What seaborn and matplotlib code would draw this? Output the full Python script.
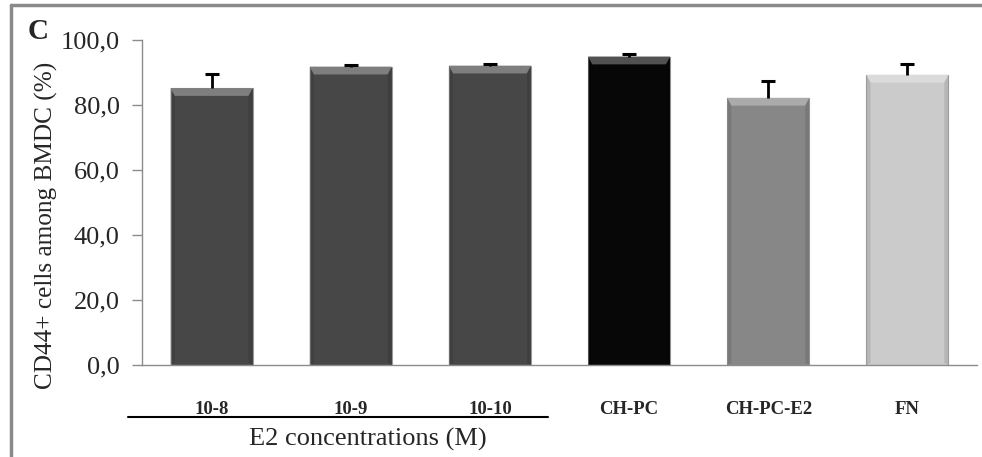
import matplotlib
matplotlib.use("Agg")
import matplotlib.pyplot as plt
from matplotlib.lines import Line2D
from matplotlib.patches import Polygon
import seaborn as sns
import numpy as np
import pandas as pd

# Data
groups = ["10-8", "10-9", "10-10", "CH-PC", "CH-PC-E2", "FN"]
cd44_pct = [85.2, 91.8, 92.1, 94.9, 82.2, 89.3]
sd_upper = [4.3, 0.4, 0.4, 0.8, 5.3, 3.3]
bar_colors = ["#474747", "#474747", "#474747", "#070707", "#878787", "#cbcbcb"]
y_ticks = [0, 20, 40, 60, 80, 100]

sns.set_theme(style="white")
plt.rcParams["font.family"] = ["Liberation Serif", "DejaVu Serif"]

fig = plt.figure(figsize=(9.82, 4.57), dpi=100)
ax = fig.add_axes([0.1446, 0.2013, 0.8503, 0.7112])

df = pd.DataFrame({"group": groups, "value": cd44_pct})
sns.barplot(data=df, x="group", y="value", hue="group", palette=bar_colors,
            width=0.59, legend=False, ax=ax, edgecolor="#9a9a9a", linewidth=0.8,
            zorder=2)

# bevel highlight along top and sides of each bar
for patch, c in zip(ax.patches, bar_colors):
    x0, w, h = patch.get_x(), patch.get_width(), patch.get_height()
    base = np.array(matplotlib.colors.to_rgb(c))
    light = base + (1 - base) * 0.3
    bev_y = 2.4
    bev_x = w * 0.05
    top = Polygon([[x0, h], [x0 + w, h], [x0 + w - bev_x, h - bev_y],
                   [x0 + bev_x, h - bev_y]], closed=True, facecolor=light,
                  edgecolor="none", zorder=3)
    ax.add_patch(top)
    dark = base * 0.8
    for pts in ([[x0, h], [x0 + bev_x, h - bev_y], [x0 + bev_x, 0.6], [x0, 0]],
                [[x0 + w, h], [x0 + w - bev_x, h - bev_y], [x0 + w - bev_x, 0.6], [x0 + w, 0]]):
        ax.add_patch(Polygon(pts, closed=True, facecolor=dark, edgecolor="none",
                             zorder=3, alpha=0.5))

# upper error bars
xs = np.arange(len(groups))
tops = np.array(cd44_pct) + np.array(sd_upper)
ax.vlines(xs, cd44_pct, tops, colors="black", linewidth=2, zorder=4)
ax.plot(xs, tops, linestyle="none", marker="_", markersize=10,
        markeredgewidth=2.2, color="black", zorder=4)

ax.set_ylim(0, 100)
ax.set_xlim(-0.5, len(groups) - 0.5)
ax.set_yticks(y_ticks)
ax.set_yticklabels([f"{v:.1f}".replace(".", ",") for v in y_ticks], fontsize=19)
ax.set_ylabel("CD44+ cells among BMDC (%)", fontsize=18.2)
ax.yaxis.set_label_coords(-0.101, 0.43)
ax.set_xlabel("")

ax.set_xticks(xs)
ax.set_xticklabels(groups, fontsize=13.5, fontweight="bold")
ax.tick_params(axis="x", which="major", length=0, pad=26)
ax.set_xticks(np.arange(-0.5, len(groups)), minor=True)
ax.tick_params(axis="x", which="minor", length=6, color="#8c8c8c", width=1)
ax.tick_params(axis="y", which="major", length=7, color="#8c8c8c", width=1,
               left=True, direction="out", pad=9)

for s in ("top", "right"):
    ax.spines[s].set_visible(False)
for s in ("left", "bottom"):
    ax.spines[s].set_color("#8c8c8c")
    ax.spines[s].set_linewidth(1)

# group bracket under the E2 concentration bars
ax.plot([-0.6, 2.42], [-16.0, -16.0], color="black", linewidth=1.5,
        clip_on=False)
ax.text(1.12, -23.0, "E2 concentrations (M)", ha="center", va="center",
        fontsize=19, clip_on=False)

# panel letter
fig.text(0.028, 0.932, "C", fontsize=21, fontweight="bold", ha="left", va="center")

# frame lines
fig.add_artist(Line2D([0.011, 1.0], [0.989, 0.989], color="#8a8a8a", linewidth=2.5))
fig.add_artist(Line2D([0.011, 0.011], [0.0, 0.989], color="#8a8a8a", linewidth=2.5))

fig.savefig("out.png", dpi=100)
